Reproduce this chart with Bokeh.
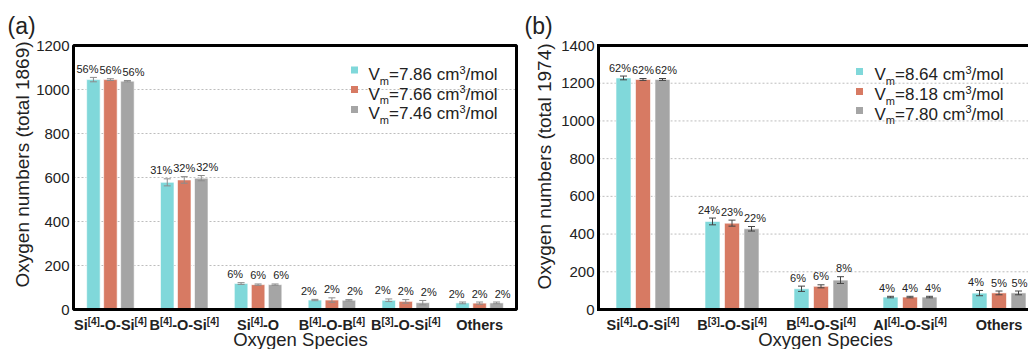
import re
import math
from bokeh.plotting import figure
from bokeh.layouts import row
from bokeh.core.properties import value
from bokeh.models import (Range1d, ColumnDataSource, Whisker, TeeHead, Label, LabelSet)
from bokeh.embed import file_html
from bokeh.resources import INLINE

# ---------------- data ----------------
a_categories = ["Si^[4]-O-Si^[4]", "B^[4]-O-Si^[4]", "Si^[4]-O", "B^[4]-O-B^[4]", "B^[3]-O-Si^[4]", "Others"]
a_vm = ["7.86", "7.66", "7.46"]
a_s1 = [1045, 578, 118, 43, 42, 30]
a_s2 = [1045, 589, 113, 43, 37, 29]
a_s3 = [1038, 597, 113, 42, 31, 30]
a_e1 = [10, 16, 4, 3, 6, 4]
a_e2 = [4, 15, 3, 10, 8, 5]
a_e3 = [3, 12, 3, 3, 10, 4]
a_p1 = ["56%", "31%", "6%", "2%", "2%", "2%"]
a_p2 = ["56%", "32%", "6%", "2%", "2%", "2%"]
a_p3 = ["56%", "32%", "6%", "2%", "2%", "2%"]
a_total = 1869
a_yticks = [0, 200, 400, 600, 800, 1000, 1200]

b_categories = ["Si^[4]-O-Si^[4]", "B^[3]-O-Si^[4]", "B^[4]-O-Si^[4]", "Al^[4]-O-Si^[4]", "Others"]
b_vm = ["8.64", "8.18", "7.80"]
b_s1 = [1228, 467, 110, 66, 87]
b_s2 = [1220, 458, 123, 66, 88]
b_s3 = [1220, 428, 156, 66, 88]
b_e1 = [10, 18, 14, 4, 14]
b_e2 = [5, 16, 8, 4, 10]
b_e3 = [5, 12, 18, 4, 10]
b_p1 = ["62%", "24%", "6%", "4%", "4%"]
b_p2 = ["62%", "23%", "6%", "4%", "5%"]
b_p3 = ["62%", "22%", "8%", "4%", "5%"]
b_total = 1974
b_yticks = [0, 200, 400, 600, 800, 1000, 1200, 1400]

colors = ["#80d8da", "#d77a63", "#a5a5a5"]

# ---------------- style / layout helpers ----------------
FONT = "Liberation Sans"
TXT = "#222222"
TOP = 0          # page offset of the canvases
H = 349          # canvas height
FT, FB = 45, 309  # frame top / bottom in page px
MID = 0.35       # em-box middle above the baseline
REG = {'V': .667, 'm': .833, '=': .584, '.': .278, ' ': .278, 'c': .5, '/': .278,
       'o': .556, 'l': .222, '%': .889}
BOLD = {'S': .667, 'i': .278, '-': .333, 'O': .778, 'B': .722, 'A': .722, 'l': .278,
        '[': .333, ']': .333, 't': .333, 'h': .611, 'e': .556, 'r': .389, 's': .556}


def tw(s, size, table):
    return sum(table.get(c, 0.556) for c in s) * size


def make_panel(letter, cats, vals, errs, pcts, vms, total, yticks, page_x0, fig_w,
               frame_left, px_per_cat, n_cats_frame, bar_w_px, step_px, err_color,
               leg_mx, leg_tx, leg_rows, xlabel_cx, ylab_cx, ylab_cy, ylab_size,
               letter_x, closed):
    ymax = yticks[-1]
    ux = 1.0 / px_per_cat
    uy = ymax / (FB - FT)
    X = lambda px: (px - frame_left) * ux
    Y = lambda py: (FB - py) * uy
    # y of the middle of a text whose alphabetic baseline is at page py
    YM = lambda py, size: Y(py - MID * size)

    p = figure(width=fig_w, height=H,
               x_range=Range1d(X(page_x0), X(page_x0 + fig_w)),
               y_range=Range1d(Y(TOP + H), Y(TOP)),
               output_backend="svg", toolbar_location=None,
               x_axis_location=None, y_axis_location=None,
               min_border=0, min_border_left=0, min_border_right=0,
               min_border_top=0, min_border_bottom=0)
    p.background_fill_color = "white"
    p.border_fill_color = "white"
    p.outline_line_color = None
    p.xgrid.visible = False
    p.ygrid.visible = False

    xend = n_cats_frame if closed else X(page_x0 + fig_w + 10)
    x_limit = X(page_x0 + fig_w - 1)

    # dotted grid lines
    gy = yticks[1:-1]
    p.segment(x0=[0] * len(gy), x1=[xend] * len(gy), y0=gy, y1=gy,
              line_color="#bdbdbd", line_dash="2 2", line_width=1)

    n = len(cats)
    step = step_px * ux
    bw = bar_w_px * ux
    for j in range(3):
        xs = [i + 0.5 + (j - 1) * step for i in range(n)]
        src = ColumnDataSource(dict(x=xs, top=vals[j],
                                    upper=[v + e for v, e in zip(vals[j], errs[j])],
                                    lower=[v - e for v, e in zip(vals[j], errs[j])]))
        p.vbar(x="x", top="top", width=bw, source=src, fill_color=colors[j],
               line_color="white", line_alpha=0.6, line_width=1)
        wh = Whisker(source=src, base="x", upper="upper", lower="lower",
                     line_color=err_color, line_width=1, level="overlay",
                     upper_head=TeeHead(size=7, line_color=err_color, line_width=1),
                     lower_head=TeeHead(size=7, line_color=err_color, line_width=1))
        p.add_layout(wh)
        lx = []
        for i in range(n):
            cx = i + 0.5 + (j - 1) * 23 * ux
            half = tw(pcts[j][i], 11, REG) / 2 * ux
            lx.append(min(cx, x_limit - half))
        lsrc = ColumnDataSource(dict(
            x=lx,
            y=[v + e + 8.5 * uy for v, e in zip(vals[j], errs[j])],
            t=pcts[j]))
        p.add_layout(LabelSet(x="x", y="y", text="t", source=lsrc, text_align="center",
                              text_baseline="middle", text_font=value(FONT),
                              text_font_size=value("11px"), text_color=TXT))

    # frame
    if closed:
        p.quad(left=[0], right=[n_cats_frame], bottom=[0], top=[ymax], fill_color=None,
               line_color="black", line_width=3)
    else:
        p.line(x=[xend, 0, 0, xend], y=[0, 0, ymax, ymax], line_color="black",
               line_width=3, line_join="miter")

    # y tick labels
    tsrc = ColumnDataSource(dict(x=[X(frame_left - 4)] * len(yticks), y=yticks,
                                 t=[str(t) for t in yticks]))
    p.add_layout(LabelSet(x="x", y="y", text="t", source=tsrc, text_align="right",
                          text_baseline="middle", text_font=value(FONT),
                          text_font_size=value("15px"), text_color=TXT))
    # y title
    p.add_layout(Label(x=X(ylab_cx), y=Y(ylab_cy), text="Oxygen numbers (total %d)" % total,
                       angle=math.pi / 2, text_align="center", text_baseline="middle",
                       text_font=FONT, text_font_size="%gpx" % ylab_size, text_color=TXT))

    # category labels with superscripts
    for i, c in enumerate(cats):
        parts = re.split(r"\^(\[\d\])", c)
        pieces = [(s, k % 2 == 1) for k, s in enumerate(parts) if s]
        widths = [tw(s, 10, BOLD) if sup else tw(s, 14.5, BOLD) for s, sup in pieces]
        off = -sum(widths) / 2
        for (s, sup), w in zip(pieces, widths):
            yy = YM(324, 10) if sup else YM(330, 14.5)
            p.add_layout(Label(x=i + 0.5 + off * ux, y=yy, text=s,
                               text_font=FONT, text_font_style="bold",
                               text_font_size="10px" if sup else "14.5px",
                               text_color=TXT, text_align="left",
                               text_baseline="middle"))
            off += w

    # x title
    p.add_layout(Label(x=X(xlabel_cx), y=YM(345.5, 18.5), text="Oxygen Species",
                       text_font=FONT, text_font_size="18.5px", text_color=TXT,
                       text_align="center", text_baseline="middle"))
    # panel letter
    p.add_layout(Label(x=X(letter_x), y=Y(25), text="(%s)" % letter,
                       text_font=FONT, text_font_size="23px", text_color=TXT,
                       text_align="left", text_baseline="middle"))

    # legend
    for j in range(3):
        my, base = leg_rows[j]
        p.scatter(x=[X(leg_mx)], y=[Y(my)], marker="square", size=7,
                  fill_color=colors[j], line_color=None)
        pieces = [("V", 17, 0), ("m", 11, -4), ("=%s cm" % vms[j], 17, 0), ("3", 11, 7),
                  ("/mol", 17, 0)]
        off = 0
        for s, sz, dy in pieces:
            p.add_layout(Label(x=X(leg_tx + off), y=YM(base - dy, sz), text=s,
                               text_font=FONT, text_font_size="%gpx" % sz,
                               text_color=TXT, text_align="left",
                               text_baseline="middle"))
            off += tw(s, sz, REG)
    return p


pa = make_panel("a", a_categories, [a_s1, a_s2, a_s3], [a_e1, a_e2, a_e3],
                [a_p1, a_p2, a_p3], a_vm, a_total, a_yticks, 0, 518, 73, 443 / 6, 6,
                13.5, 17, "#8c8c8c", 354, 368, [(69.5, 80), (89, 99.5), (109, 119)],
                300, 22, 164, 19, 7, True)
pb = make_panel("b", b_categories, [b_s1, b_s2, b_s3], [b_e1, b_e2, b_e3],
                [b_p1, b_p2, b_p3], b_vm, b_total, b_yticks, 518, 510, 598, 89, 5,
                15, 19.5, "#444444", 859, 874, [(71, 80), (91, 100), (110, 119.5)],
                825, 544, 166, 19, 524, False)

layout = row(pa, pb)
open("out.html", "w").write(file_html(layout, INLINE))
